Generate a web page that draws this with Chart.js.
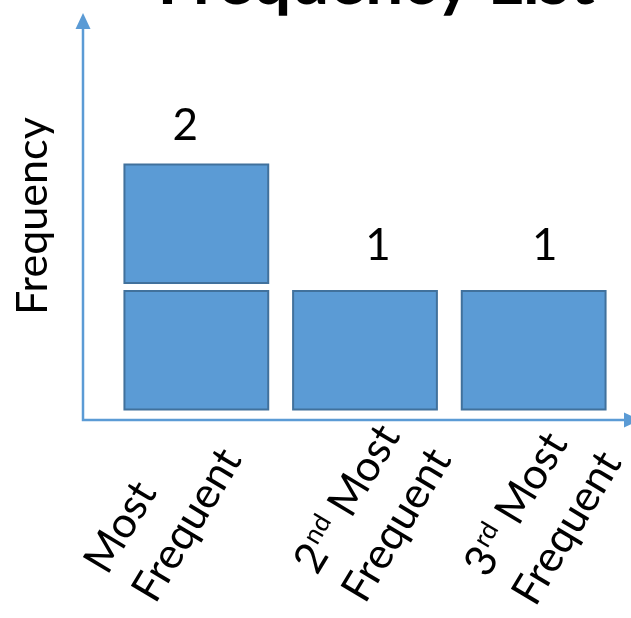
<!DOCTYPE html>
<html>
<head>
<meta charset="utf-8">
<script src="https://cdn.jsdelivr.net/npm/chart.js@4/dist/chart.umd.min.js"></script>
<style>
  html, body { margin: 0; padding: 0; background: #ffffff; }
  #wrap { width: 631px; height: 618px; position: relative; }
</style>
</head>
<body>
<div id="wrap"><canvas id="c" width="631" height="618"></canvas></div>
<script>
// ---- data ----
const titleText = 'Frequency List';
const yAxisTitle = 'Frequency';
const categories = [['Most', 'Frequent'], ['2nd Most', 'Frequent'], ['3rd Most', 'Frequent']];
const frequency = [2, 1, 1];            // value labels above the stacks
const firstUnitBlock = [1, 1, 1];       // lower block of each stack
const secondUnitBlock = [1, null, null];// upper block of each stack
const yMin = 0, yMax = 3;

// ---- style ----
const FONT = 'Lato, "Open Sans", sans-serif';
const fillColor = '#5B9BD5';
const edgeColor = '#41719C';
const axisColor = '#5B9BD5';
const labelAngle = -59 * Math.PI / 180;
const labelFont = 43, labelLineGap = 56;
const labelDx = [-41, 0, 1.5];
const labelY = [605, 605, 608];
const valueOffsets = [[-11, -21], [13, -27], [11, -27]];

function blockSet(data, stack, bg, border, bw, order) {
  return {
    data, stack, order,
    backgroundColor: bg, borderColor: border, borderWidth: bw,
    borderSkipped: false, grouped: false, inflateAmount: 0,
    barPercentage: 0.9, categoryPercentage: 1
  };
}

function drawLabelLine(ctx, text, x, y, size) {
  const m = text.match(/^(\d+)(st|nd|rd|th)(.*)$/);
  ctx.font = size + 'px ' + FONT;
  if (!m) { ctx.fillText(text, x, y); return; }
  ctx.fillText(m[1], x, y);
  let w = ctx.measureText(m[1]).width + 1;
  const sup = Math.round(size * 0.6);
  ctx.font = sup + 'px ' + FONT;
  ctx.fillText(m[2], x + w, y - size * 0.36);
  w += ctx.measureText(m[2]).width;
  ctx.font = size + 'px ' + FONT;
  ctx.fillText(m[3], x + w, y);
}

function fitFont(ctx, text, weight, targetWidth) {
  ctx.font = weight + ' 100px ' + FONT;
  const s = 100 * targetWidth / ctx.measureText(text).width;
  ctx.font = weight + ' ' + s.toFixed(1) + 'px ' + FONT;
}

const decor = {
  id: 'decor',
  afterDraw(chart) {
    const ctx = chart.ctx;
    const xs = chart.scales.x, ys = chart.scales.y;
    const area = chart.chartArea;
    ctx.save();

    // axes with arrowheads
    const ax = area.left - 29;
    const ay = ys.getPixelForValue(0) + 6.5;
    ctx.strokeStyle = axisColor; ctx.fillStyle = axisColor; ctx.lineWidth = 2.5;
    ctx.beginPath();
    ctx.moveTo(ax, 29); ctx.lineTo(ax, ay); ctx.lineTo(624, ay);
    ctx.stroke();
    ctx.beginPath();
    ctx.moveTo(ax, 13); ctx.lineTo(ax - 7.5, 29); ctx.lineTo(ax + 7.5, 29); ctx.closePath(); ctx.fill();
    ctx.beginPath();
    ctx.moveTo(640, ay); ctx.lineTo(624, ay - 7.5); ctx.lineTo(624, ay + 7.5); ctx.closePath(); ctx.fill();

    // title (cut off at the top)
    ctx.fillStyle = '#000000';
    ctx.textAlign = 'center'; ctx.textBaseline = 'alphabetic';
    fitFont(ctx, titleText, 'bold', 437);
    ctx.fillText(titleText, 376, 4);

    // y axis title
    ctx.save();
    fitFont(ctx, yAxisTitle, 'normal', 198);
    ctx.translate(47, 216);
    ctx.rotate(-Math.PI / 2);
    ctx.fillText(yAxisTitle, 0, 0);
    ctx.restore();

    // value labels
    ctx.font = '44px ' + FONT;
    ctx.textAlign = 'center';
    const topMeta = [chart.getDatasetMeta(0), chart.getDatasetMeta(1)];
    frequency.forEach((v, i) => {
      const el = (secondUnitBlock[i] != null ? topMeta[1] : topMeta[0]).data[i];
      ctx.fillText(String(v), el.x + valueOffsets[i][0], el.y + valueOffsets[i][1]);
    });

    // rotated category labels
    ctx.textAlign = 'left';
    categories.forEach((lines, i) => {
      ctx.save();
      ctx.translate(xs.getPixelForValue(i) + labelDx[i], labelY[i]);
      ctx.rotate(labelAngle);
      const n = lines.length;
      lines.forEach((ln, k) => {
        drawLabelLine(ctx, ln, 0, -(n - 1 - k) * labelLineGap, labelFont);
      });
      ctx.restore();
    });

    ctx.restore();
  }
};

function build() {
  new Chart(document.getElementById('c'), {
    type: 'bar',
    data: {
      labels: categories,
      datasets: [
        blockSet(firstUnitBlock, 'fill', fillColor, 'rgba(0,0,0,0)', 5, 0),
        blockSet(secondUnitBlock, 'fill', fillColor, 'rgba(0,0,0,0)', 5, 0),
        blockSet(firstUnitBlock, 'edge', edgeColor, '#ffffff', 3, 1),
        blockSet(secondUnitBlock, 'edge', edgeColor, '#ffffff', 3, 1)
      ]
    },
    options: {
      responsive: false,
      animation: false,
      events: [],
      layout: { padding: { left: 112, right: 13, top: 34, bottom: 204.5 } },
      plugins: { legend: { display: false }, title: { display: false }, tooltip: { enabled: false } },
      scales: {
        x: { display: false, offset: true },
        y: { display: false, stacked: true, min: yMin, max: yMax }
      }
    },
    plugins: [decor]
  });
}

if (document.fonts && document.fonts.load) {
  Promise.all([
    document.fonts.load('40px Lato'),
    document.fonts.load('bold 40px Lato')
  ]).then(build, build);
} else {
  build();
}
</script>
</body>
</html>
